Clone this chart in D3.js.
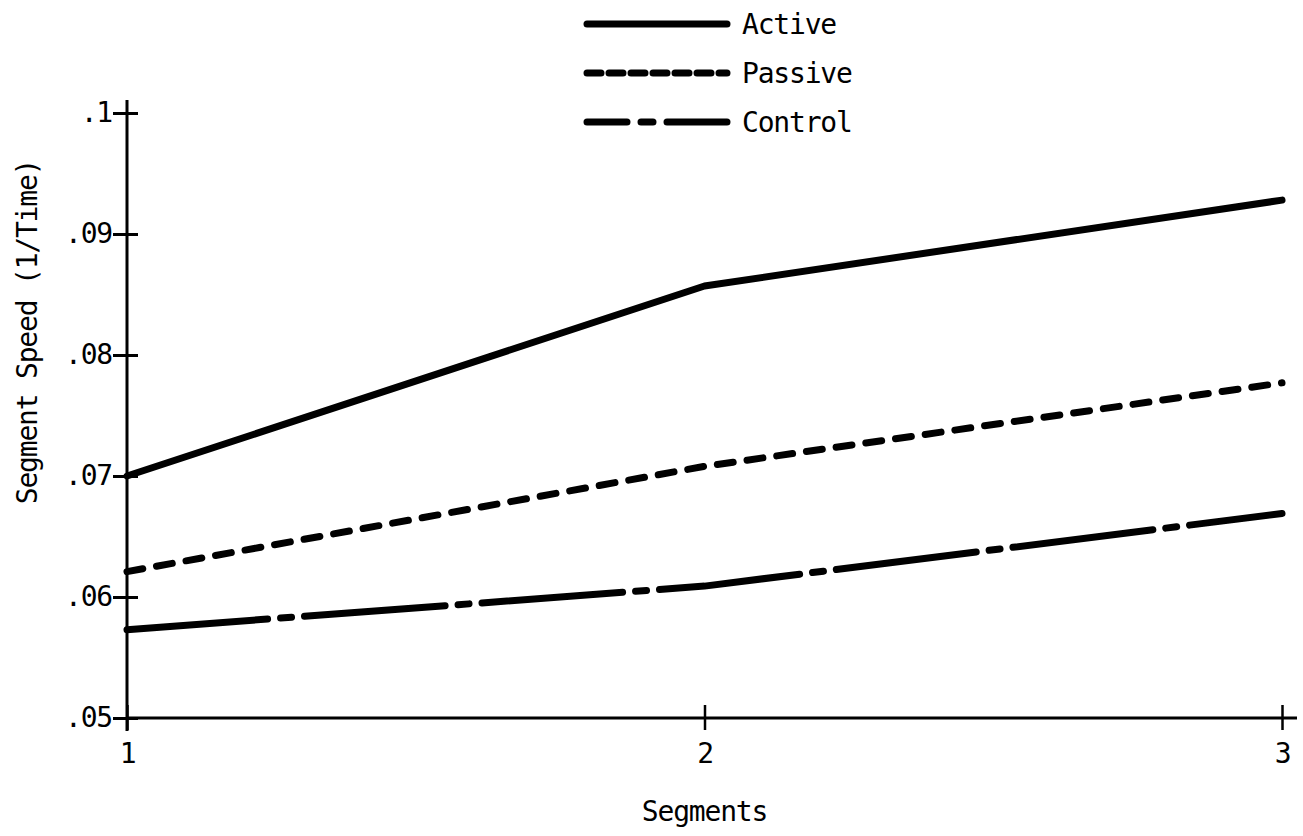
<!DOCTYPE html>
<html>
<head>
<meta charset="utf-8">
<script src="https://cdn.jsdelivr.net/npm/d3@7"></script>
<style>
  body { margin: 0; background: #fff; }
  text { font-family: "DejaVu Sans Mono", monospace; fill: #000; letter-spacing: -1.2px; }
</style>
</head>
<body>
<div id="chart"></div>
<script>
// values
const segments = [1, 2, 3];
const active = [0.0700, 0.0857, 0.0928];
const passive = [0.0621, 0.0708, 0.0777];
const control = [0.0573, 0.0609, 0.0669];
const yTicks = [0.05, 0.06, 0.07, 0.08, 0.09, 0.1];
const seriesNames = ["Active", "Passive", "Control"];

const width = 1303;
const height = 836;
const fontSize = "28px";

// dash patterns (round caps add the line width to each dash)
const lineDash = { Active: null, Passive: "16,14", Control: "141,13,11,13" };
const legendDash = { Active: null, Passive: "14,8", Control: "40,14,12,14,80" };

const svg = d3.select("#chart")
  .append("svg")
  .attr("width", width)
  .attr("height", height);

const x = d3.scaleLinear().domain([1, 3]).range([127, 1282]);
const y = d3.scaleLinear().domain([0.05, 0.1]).range([718, 113]);

function fmt(d) {
  return d3.format(".2~f")(d).replace(/^0/, "");
}

// y axis
const yAxis = svg.append("g")
  .attr("transform", `translate(${x(1)},0)`)
  .call(d3.axisLeft(y).tickValues(yTicks).tickFormat(fmt).tickSize(14).tickPadding(2));
yAxis.select(".domain").remove();
yAxis.selectAll(".tick line")
  .attr("x1", 11)
  .attr("stroke-width", 3);
yAxis.selectAll(".tick text")
  .attr("font-size", fontSize)
  .attr("font-family", "DejaVu Sans Mono")
  .attr("x", -15);
svg.append("line")
  .attr("x1", x(1)).attr("x2", x(1))
  .attr("y1", 100).attr("y2", 731)
  .attr("stroke", "#000").attr("stroke-width", 3);

// x axis
const xAxis = svg.append("g")
  .attr("transform", `translate(0,${y(0.05)})`)
  .call(d3.axisBottom(x).tickValues(segments).tickFormat(d3.format("d")).tickSize(12).tickPadding(13));
xAxis.select(".domain").remove();
xAxis.selectAll(".tick line")
  .attr("y1", -13)
  .attr("stroke-width", 2.5);
xAxis.selectAll(".tick text")
  .attr("font-size", fontSize)
  .attr("font-family", "DejaVu Sans Mono");
svg.append("line")
  .attr("x1", x(1)).attr("x2", 1297)
  .attr("y1", y(0.05)).attr("y2", y(0.05))
  .attr("stroke", "#000").attr("stroke-width", 3);

// axis titles
svg.append("text")
  .attr("x", x(2))
  .attr("y", 821)
  .attr("text-anchor", "middle")
  .attr("font-size", fontSize)
  .text("Segments");

svg.append("text")
  .attr("transform", "translate(37,332) rotate(-90)")
  .attr("text-anchor", "middle")
  .attr("font-size", fontSize)
  .text("Segment Speed (1/Time)");

// series lines
const series = [
  { name: "Active", values: active },
  { name: "Passive", values: passive },
  { name: "Control", values: control }
];

const line = d3.line()
  .x((d, i) => x(segments[i]))
  .y(d => y(d));

svg.selectAll("path.series")
  .data(series)
  .enter()
  .append("path")
  .attr("class", "series")
  .attr("d", d => line(d.values))
  .attr("fill", "none")
  .attr("stroke", "#000")
  .attr("stroke-width", 7)
  .attr("stroke-linecap", "round")
  .attr("stroke-linejoin", "round")
  .attr("stroke-dasharray", d => lineDash[d.name]);

// legend
const legend = svg.selectAll("g.legend")
  .data(seriesNames)
  .enter()
  .append("g")
  .attr("class", "legend")
  .attr("transform", (d, i) => `translate(0,${24 + i * 49})`);

legend.append("line")
  .attr("x1", 587).attr("x2", 727)
  .attr("y1", 0).attr("y2", 0)
  .attr("stroke", "#000")
  .attr("stroke-width", 7)
  .attr("stroke-linecap", "round")
  .attr("stroke-dasharray", d => legendDash[d]);

legend.append("text")
  .attr("x", 742)
  .attr("y", 0)
  .attr("dy", "0.36em")
  .attr("font-size", fontSize)
  .text(d => d);
</script>
</body>
</html>
